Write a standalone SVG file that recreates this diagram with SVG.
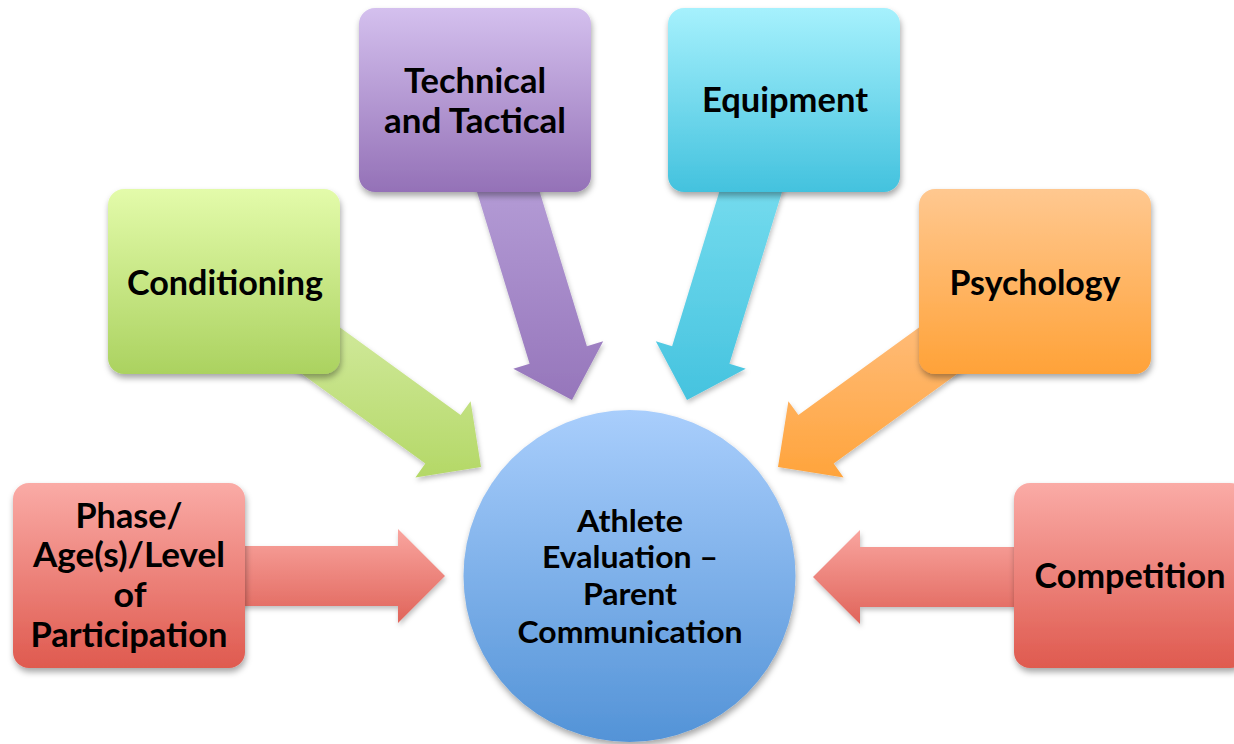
<svg xmlns="http://www.w3.org/2000/svg" width="1234" height="744" viewBox="0 0 1234 744">
  <defs>
    <linearGradient id="gRed" x1="0" y1="0" x2="0" y2="1">
      <stop offset="0" stop-color="#FAABA6"/>
      <stop offset="1" stop-color="#DF5A4F"/>
    </linearGradient>
    <linearGradient id="gRedArrow" x1="0" y1="0" x2="0" y2="1">
      <stop offset="0" stop-color="#F9A59F"/>
      <stop offset="1" stop-color="#E0645A"/>
    </linearGradient>
    <linearGradient id="gGreen" x1="0" y1="0" x2="0" y2="1">
      <stop offset="0" stop-color="#E3FBAA"/>
      <stop offset="1" stop-color="#ABD260"/>
    </linearGradient>
    <linearGradient id="gGreenArrow" x1="0" y1="0" x2="0" y2="1">
      <stop offset="0" stop-color="#D2EA9E"/>
      <stop offset="1" stop-color="#B4D867"/>
    </linearGradient>
    <linearGradient id="gPurple" x1="0" y1="0" x2="0" y2="1">
      <stop offset="0" stop-color="#D4C0EE"/>
      <stop offset="1" stop-color="#9471B7"/>
    </linearGradient>
    <linearGradient id="gPurpleArrow" x1="0" y1="0" x2="0" y2="1">
      <stop offset="0" stop-color="#BCA6DD"/>
      <stop offset="1" stop-color="#9676BB"/>
    </linearGradient>
    <linearGradient id="gCyan" x1="0" y1="0" x2="0" y2="1">
      <stop offset="0" stop-color="#A6F1FD"/>
      <stop offset="1" stop-color="#43C2DE"/>
    </linearGradient>
    <linearGradient id="gCyanArrow" x1="0" y1="0" x2="0" y2="1">
      <stop offset="0" stop-color="#82E2F2"/>
      <stop offset="1" stop-color="#45C3DF"/>
    </linearGradient>
    <linearGradient id="gOrange" x1="0" y1="0" x2="0" y2="1">
      <stop offset="0" stop-color="#FFC890"/>
      <stop offset="1" stop-color="#FFA238"/>
    </linearGradient>
    <linearGradient id="gOrangeArrow" x1="0" y1="0" x2="0" y2="1">
      <stop offset="0" stop-color="#FFBD7C"/>
      <stop offset="1" stop-color="#FFA43C"/>
    </linearGradient>
    <linearGradient id="gBlue" x1="0" y1="0" x2="0" y2="1">
      <stop offset="0" stop-color="#A9CEFC"/>
      <stop offset="1" stop-color="#5393D7"/>
    </linearGradient>
    <filter id="shadow" x="-10%" y="-10%" width="125%" height="130%">
      <feDropShadow dx="1" dy="4" stdDeviation="3" flood-color="#000" flood-opacity="0.35"/>
    </filter>
    <filter id="softShadow" x="-10%" y="-10%" width="125%" height="130%">
      <feDropShadow dx="1" dy="3" stdDeviation="2.5" flood-color="#000" flood-opacity="0.25"/>
    </filter>
  </defs>
  <style>
    .box { filter: url(#shadow); }
    .arrow { filter: url(#softShadow); }
    .label { font-family: "Lato", "Open Sans", "Liberation Sans", sans-serif; font-weight: 700; font-size: 34px; fill: #000; text-anchor: middle; }
    .hub { font-size: 31px; }
  </style>

  <rect width="1234" height="744" fill="#FFFFFF"/>

  <!-- central circle -->
  <g id="node-athlete-evaluation">
    <circle class="box" cx="629.5" cy="576" r="166" fill="url(#gBlue)"/>
    <text class="label hub" x="630" y="532" textLength="106" lengthAdjust="spacingAndGlyphs">Athlete</text>
    <text class="label hub" x="630" y="568" textLength="176" lengthAdjust="spacingAndGlyphs">Evaluation –</text>
    <text class="label hub" x="630" y="605" textLength="94" lengthAdjust="spacingAndGlyphs">Parent</text>
    <text class="label hub" x="630" y="643" textLength="225" lengthAdjust="spacingAndGlyphs">Communication</text>
  </g>

  <!-- block arrows pointing into the circle -->
  <g id="connectors">
    <path class="arrow" fill="url(#gRedArrow)" d="M200,546 L398,546 L398,529 L445,576 L398,623 L398,606 L200,606 Z"/>
    <path class="arrow" fill="url(#gRedArrow)" d="M1060,547 L860,547 L860,530 L813,577 L860,624 L860,607 L1060,607 Z"/>
    <path class="arrow" fill="url(#gGreenArrow)" d="M285.4,362 L425.3,463.6 L415.4,477.4 L481,467 L470.6,401.3 L460.6,415.1 L320.7,313.4 Z"/>
    <path class="arrow" fill="url(#gOrangeArrow)" d="M973.6,362 L833.7,463.6 L843.6,477.4 L778,467 L788.4,401.3 L798.4,415.1 L938.3,313.4 Z"/>
    <path class="arrow" fill="url(#gPurpleArrow)" d="M518.8,123.4 L586.9,346.3 L603.2,341.3 L572,400 L513.3,368.8 L529.6,363.8 L461.4,141 Z"/>
    <path class="arrow" fill="url(#gCyanArrow)" d="M740.2,123.4 L672.1,346.3 L655.8,341.3 L687,400 L745.7,368.8 L729.4,363.8 L797.6,141 Z"/>
  </g>

  <g id="node-phase">
    <rect class="box" x="13" y="483" width="232" height="185" rx="16" fill="url(#gRed)"/>
    <text class="label" x="129" y="528" textLength="107" lengthAdjust="spacingAndGlyphs">Phase/</text>
    <text class="label" x="129" y="567" textLength="192" lengthAdjust="spacingAndGlyphs">Age(s)/Level</text>
    <text class="label" x="130" y="607" textLength="33" lengthAdjust="spacingAndGlyphs">of</text>
    <text class="label" x="129" y="647" textLength="197" lengthAdjust="spacingAndGlyphs">Participation</text>
  </g>

  <g id="node-conditioning">
    <rect class="box" x="108" y="189" width="232" height="185" rx="16" fill="url(#gGreen)"/>
    <text class="label" x="225" y="295" textLength="196" lengthAdjust="spacingAndGlyphs">Conditioning</text>
  </g>

  <g id="node-technical">
    <rect class="box" x="359" y="8" width="232" height="184" rx="16" fill="url(#gPurple)"/>
    <text class="label" x="475" y="93" textLength="142" lengthAdjust="spacingAndGlyphs">Technical</text>
    <text class="label" x="475" y="133" textLength="182" lengthAdjust="spacingAndGlyphs">and Tactical</text>
  </g>

  <g id="node-equipment">
    <rect class="box" x="668" y="8" width="232" height="184" rx="16" fill="url(#gCyan)"/>
    <text class="label" x="785" y="112" textLength="166" lengthAdjust="spacingAndGlyphs">Equipment</text>
  </g>

  <g id="node-psychology">
    <rect class="box" x="919" y="189" width="232" height="185" rx="16" fill="url(#gOrange)"/>
    <text class="label" x="1035" y="295" textLength="171" lengthAdjust="spacingAndGlyphs">Psychology</text>
  </g>

  <g id="node-competition">
    <rect class="box" x="1014" y="483" width="232" height="185" rx="16" fill="url(#gRed)"/>
    <text class="label" x="1130" y="588" textLength="191" lengthAdjust="spacingAndGlyphs">Competition</text>
  </g>
</svg>
